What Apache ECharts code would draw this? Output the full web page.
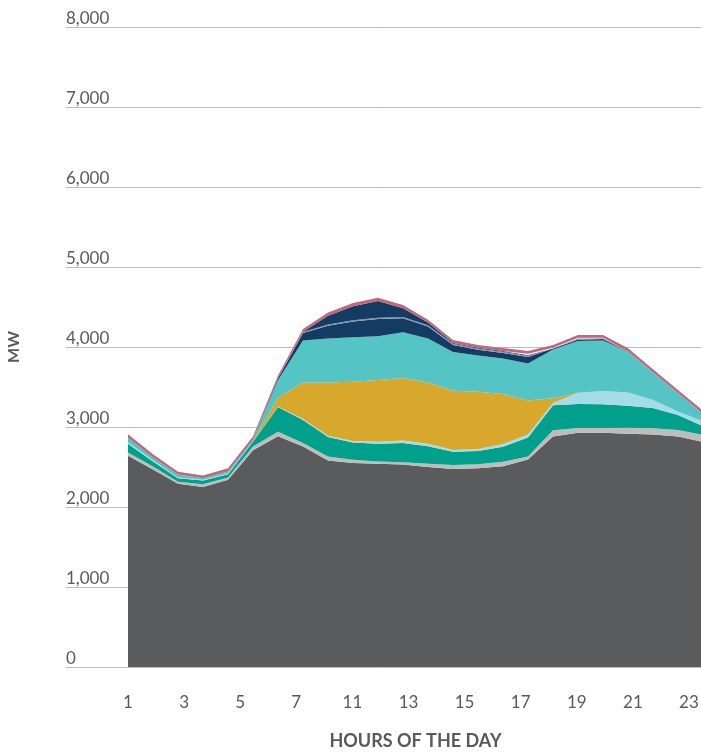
<!DOCTYPE html>
<html>
<head>
<meta charset="utf-8">
<script src="https://cdn.jsdelivr.net/npm/echarts@6/dist/echarts.min.js"></script>
<style>
  html, body { margin: 0; padding: 0; background: #ffffff; }
  #chart { width: 701px; height: 754px; }
</style>
</head>
<body>
<div id="chart"></div>
<script>
// Hourly generation stack (MW), hours 1..24
const hours = ['1','2','3','4','5','6','7','8','9','10','11','12','13','14','15','16','17','18','19','20','21','22','23','24'];
const xTickLabels = ['1','3','5','7','11','13','15','17','19','21','23'];
const yTickValues = [0, 1000, 2000, 3000, 4000, 5000, 6000, 7000, 8000];

const baseLoad   = [2640,2470,2290,2250,2340,2710,2885,2755,2580,2550,2540,2530,2500,2475,2485,2510,2595,2880,2929,2929,2915,2905,2880,2815];
const greyBand   = [40,35,25,35,30,45,55,45,50,40,30,30,40,50,48,56,35,80,58,58,75,80,82,85];
const tealBand   = [110,65,45,45,40,60,310,287,245,215,220,240,220,165,167,188,240,312,300,296,275,252,188,110];
const skyBand    = [20,15,10,10,10,0,5,13,15,20,25,30,30,22,25,33,35,28,142,167,165,100,45,60];
const goldBand   = [0,0,0,0,0,5,110,455,665,740,772,782,765,742,716,625,425,60,0,0,0,0,0,0];
const aquaBand   = [55,35,35,20,25,20,220,527,552,558,548,573,552,482,454,445,465,610,646,632,515,348,230,95];
const navyLow    = [0,0,0,0,0,0,20,93,158,197,215,175,150,89,70,68,80,10,15,18,0,0,0,0];
const navyRule   = [0,0,0,0,0,0,0,12,15,15,15,15,15,15,15,15,15,5,10,7,0,0,0,0];
const navyHigh   = [0,0,0,0,0,0,0,3,110,175,210,110,33,10,10,10,10,0,5,3,0,0,0,0];
const whiteBand  = [0,0,0,0,0,0,0,0,0,0,0,0,0,0,0,0,15,5,10,5,0,0,0,0];
const roseBand   = [45,40,35,35,40,40,40,35,40,40,40,40,35,37,35,37,35,35,35,35,40,37,37,40];

const layers = [
  { name: 'base', data: baseLoad, color: '#5a5b5d' },
  { name: 'grey', data: greyBand, color: '#bdbdbd' },
  { name: 'teal', data: tealBand, color: '#00a08c' },
  { name: 'sky', data: skyBand, color: '#a6dbe8' },
  { name: 'gold', data: goldBand, color: '#d7a82b' },
  { name: 'aqua', data: aquaBand, color: '#54c4c5' },
  { name: 'navyLow', data: navyLow, color: '#143c63' },
  { name: 'navyRule', data: navyRule, color: '#7e95ae' },
  { name: 'navyHigh', data: navyHigh, color: '#143c63' },
  { name: 'white', data: whiteBand, color: '#ffffff' },
  { name: 'rose', data: roseBand, color: '#c0677b' }
];

const FONT = 'Lato, "Source Sans Pro", sans-serif';
const TEXT = '#595959';

const chart = echarts.init(document.getElementById('chart'), null, { renderer: 'canvas' });

chart.setOption({
  animation: false,
  backgroundColor: '#ffffff',
  grid: [
    { left: 66, right: 0, top: 27, bottom: 87, outerBoundsMode: 'none', containLabel: false },
    { left: 128, width: 575, top: 27, bottom: 87, outerBoundsMode: 'none', containLabel: false }
  ],
  xAxis: [
    { gridIndex: 0, type: 'value', min: 0, max: 1, show: false },
    {
      gridIndex: 1, type: 'category', data: hours, boundaryGap: false, position: 'bottom',
      axisLine: { show: false }, axisTick: { show: false }, axisLabel: { show: false }, splitLine: { show: false }
    },
    {
      gridIndex: 1, type: 'value', min: 0, max: 10.25, interval: 1, position: 'bottom',
      axisLine: { show: false }, axisTick: { show: false }, splitLine: { show: false },
      axisLabel: {
        margin: 27, color: TEXT, fontFamily: FONT, fontSize: 17,
        formatter: function (v) { return Number.isInteger(v) && xTickLabels[v] !== undefined ? xTickLabels[v] : ''; }
      },
      name: 'HOURS OF THE DAY', nameLocation: 'middle', nameGap: 65,
      nameTextStyle: { color: TEXT, fontFamily: FONT, fontSize: 18, fontWeight: 'bold' }
    }
  ],
  yAxis: [
    {
      gridIndex: 0, type: 'value', min: yTickValues[0], max: yTickValues[yTickValues.length - 1], interval: 1000,
      axisLine: { show: false }, axisTick: { show: false },
      splitLine: { show: true, lineStyle: { color: '#bcbcbc', width: 1 } },
      axisLabel: {
        inside: false, margin: 0, align: 'left', verticalAlign: 'bottom',
        color: TEXT, fontFamily: FONT, fontSize: 17,
        formatter: function (v) { return v.toLocaleString('en-US'); }
      },
      name: 'MW', nameLocation: 'middle', nameRotate: 90, nameGap: 44,
      nameTextStyle: { color: TEXT, fontFamily: FONT, fontSize: 16, fontWeight: 'bold' }
    },
    { gridIndex: 1, type: 'value', min: 0, max: 8000, show: false }
  ],
  series: layers.map(function (l) {
    return {
      name: l.name,
      type: 'line',
      xAxisIndex: 1,
      yAxisIndex: 1,
      stack: 'total',
      data: l.data,
      symbol: 'none',
      smooth: false,
      silent: true,
      lineStyle: { width: 0 },
      areaStyle: { color: l.color, opacity: 1 },
      emphasis: { disabled: true }
    };
  })
});
</script>
</body>
</html>
